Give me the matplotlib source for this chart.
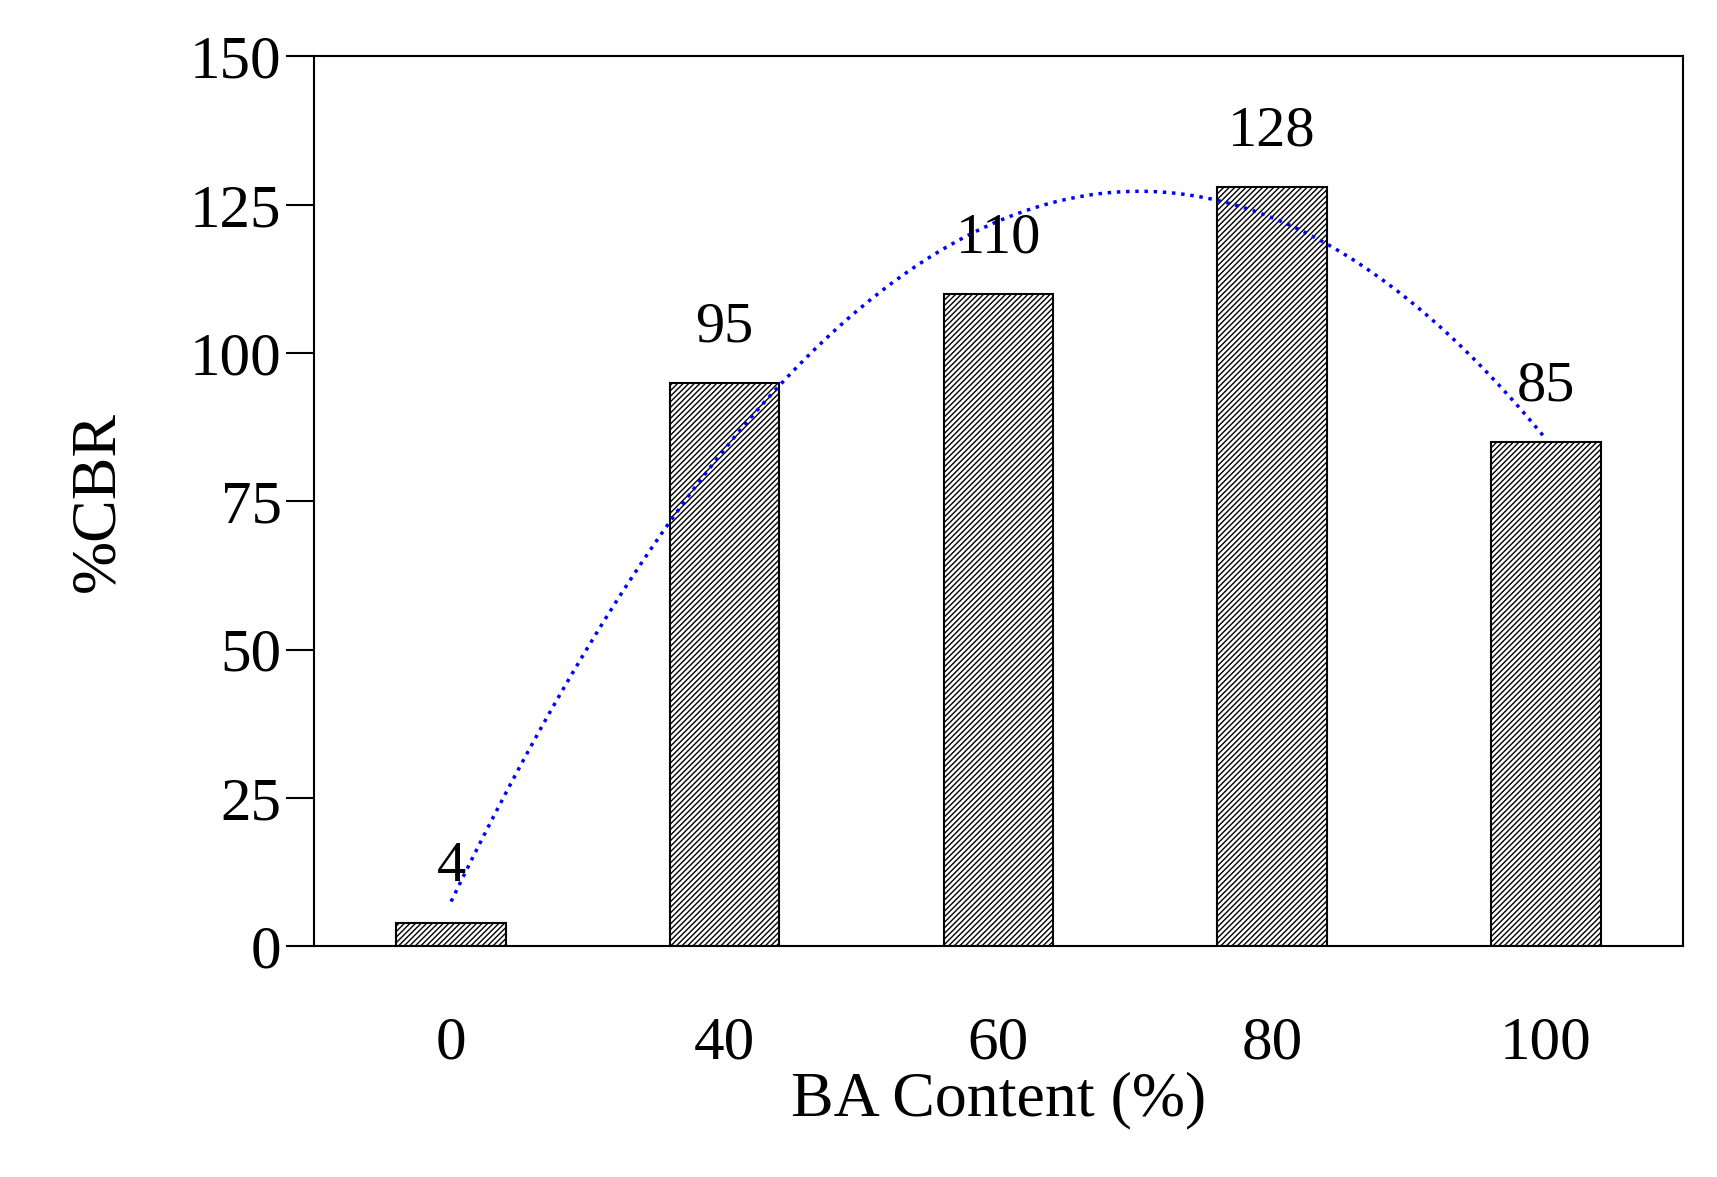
import matplotlib
matplotlib.use("Agg")
import matplotlib.pyplot as plt
import numpy as np

categories = ["0", "40", "60", "80", "100"]
cbr = [4, 95, 110, 128, 85]

plt.rcParams["font.family"] = ["Liberation Serif", "DejaVu Serif"]
plt.rcParams["hatch.linewidth"] = 1.0

fig = plt.figure(figsize=(17.17, 11.77), dpi=100)
ax = fig.add_axes([0.183, 0.196, 0.797, 0.756])

x = np.arange(len(categories))
ax.bar(x, cbr, 0.4, color="white", edgecolor="black", hatch="//////", linewidth=1.5)
for xi, v in zip(x, cbr):
    ax.text(xi, v + 5, str(v), ha="center", va="bottom", fontsize=42)

# quadratic trend line
coef = np.polyfit(x, cbr, 2)
xs = np.linspace(x[0], x[-1], 200)
ax.plot(xs, np.polyval(coef, xs), ":", color="blue", linewidth=2.5)

ax.set_xlim(-0.5, 4.5)
ax.set_ylim(0, 150)
ax.set_yticks([0, 25, 50, 75, 100, 125, 150])
ax.set_xticks(x)
ax.set_xticklabels(categories)
ax.tick_params(axis="y", labelsize=44, length=20, width=1.5, direction="out")
ax.tick_params(axis="x", labelsize=44, length=0, pad=50)
for s in ax.spines.values():
    s.set_linewidth(1.5)
ax.set_xlabel("BA Content (%)", fontsize=46, labelpad=0)
ax.set_ylabel("%CBR", fontsize=46, labelpad=45)

fig.savefig("out.png", dpi=100)
